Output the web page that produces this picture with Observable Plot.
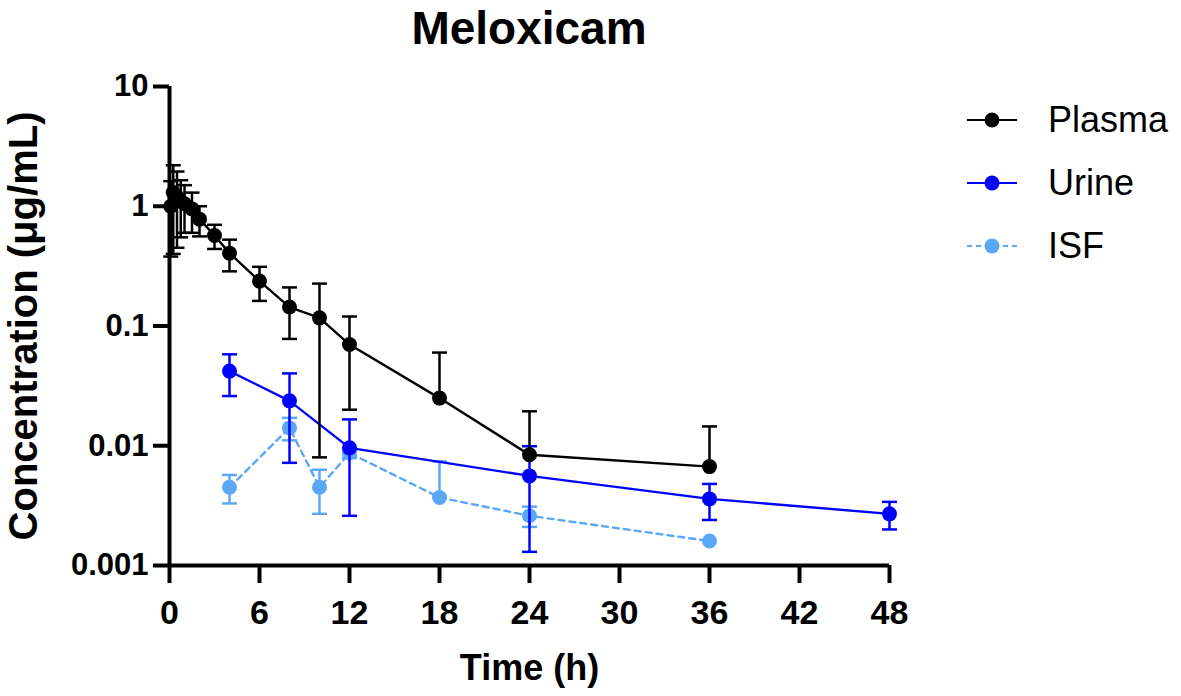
<!DOCTYPE html>
<html><head><meta charset="utf-8">
<script src="https://cdn.jsdelivr.net/npm/d3@7"></script>
<script src="https://cdn.jsdelivr.net/npm/@observablehq/plot@0.6"></script>
<style>
body{margin:0;background:#fff;font-family:"Liberation Sans",Arial,sans-serif;}
#wrap{position:relative;width:1181px;height:696px;overflow:hidden;}
#title{position:absolute;top:1px;left:0;width:1058px;text-align:center;font-size:46px;font-weight:bold;line-height:normal;}
#chart{padding-top:50px;}
#legend{position:absolute;left:966px;top:88px;}
.row{display:flex;align-items:center;height:63px;font-size:36px;}
.row svg{margin-right:30px;}
</style></head>
<body><div id="wrap"><div id="title">Meloxicam</div><div id="chart"></div><div id="legend"></div></div>
<script>
const series = ["Plasma", "Urine", "ISF"];
const colors = ["#000000", "#0000ff", "#5aa8f5"];
const dashes = [null, null, "6,5"];

const plasmaTime = [0.083, 0.25, 0.5, 0.75, 1, 1.5, 2, 3, 4, 6, 8, 10, 12, 18, 24, 36];
const plasmaMean = [1.0, 1.3, 1.2, 1.1, 1.05, 0.95, 0.78, 0.57, 0.406, 0.237, 0.144, 0.117, 0.07, 0.025, 0.0084, 0.0067];
const plasmaSD   = [0.62, 0.9, 0.75, 0.55, 0.45, 0.35, 0.22, 0.13, 0.12, 0.075, 0.066, 0.109, 0.05, 0.035, 0.011, 0.0078];

const urineTime = [4, 8, 12, 24, 36, 48];
const urineMean = [0.042, 0.0237, 0.0096, 0.0056, 0.0036, 0.0027];
const urineSD   = [0.016, 0.0165, 0.007, 0.0043, 0.0012, 0.0007];

const isfTime = [4, 8, 10, 12, 18, 24, 36];
const isfMean = [0.0045, 0.0141, 0.0045, 0.0087, 0.0037, 0.0026, 0.0016];
const isfSD   = [0.0012, 0.003, 0.0018, 0.0008, 0.0037, 0.0005, 0.0];

const xTicks = [0, 6, 12, 18, 24, 30, 36, 42, 48];
const yTicks = [0.001, 0.01, 0.1, 1, 10];

function build(name, t, m, s) {
  return t.map((x, i) => ({series: name, t: x, mean: m[i], lo: m[i] - s[i], hi: m[i] + s[i], sd: s[i]}));
}
const groups = [
  build("ISF", isfTime, isfMean, isfSD),
  build("Urine", urineTime, urineMean, urineSD),
  build("Plasma", plasmaTime, plasmaMean, plasmaSD)
];

const cap = {draw(ctx, size) { const r = Math.sqrt(size / Math.PI); ctx.moveTo(-r, 0); ctx.lineTo(r, 0); }};

const marks = [];
for (const rows of groups) {
  const name = rows[0].series;
  const idx = series.indexOf(name);
  const err = rows.filter(d => d.sd > 0);
  marks.push(
    Plot.ruleX(err, {x: "t", y1: d => d.lo > 0 ? d.lo : d.mean, y2: "hi", stroke: "series", strokeWidth: 2.5}),
    Plot.dot(err, {x: "t", y: "hi", symbol: cap, r: 7.5, stroke: "series", strokeWidth: 2.5, fill: "none"}),
    Plot.dot(err.filter(d => d.lo > 0), {x: "t", y: "lo", symbol: cap, r: 7.5, stroke: "series", strokeWidth: 2.5, fill: "none"}),
    Plot.line(rows, {x: "t", y: "mean", stroke: "series", strokeWidth: 2.4, strokeDasharray: dashes[idx]}),
    Plot.dot(rows, {x: "t", y: "mean", fill: "series", r: 7.5})
  );
}

const chart = Plot.plot({
  width: 1181,
  height: 646,
  marginLeft: 169,
  marginRight: 292,
  marginTop: 36,
  marginBottom: 131,
  style: {fontFamily: "'Liberation Sans', Arial, sans-serif", overflow: "visible", background: "#fff"},
  x: {domain: [0, 48]},
  y: {type: "log", domain: [0.001, 10]},
  color: {domain: series, range: colors},
  marks: [
    ...marks,
    Plot.ruleX([0], {y1: 0.001, y2: 10, strokeWidth: 4}),
    Plot.ruleY([0.001], {x1: 0, x2: 48, strokeWidth: 4}),
    Plot.axisX({ticks: xTicks, tickSize: 18, strokeWidth: 4, tickPadding: 16, fontSize: 34, fontWeight: "bold", label: null}),
    Plot.axisY({ticks: yTicks, tickSize: 16, strokeWidth: 4, tickPadding: 5, fontSize: 31, fontWeight: "bold", label: null, tickFormat: d => String(d)}),
    Plot.text(["Time (h)"], {frameAnchor: "bottom", dy: 114, fontSize: 36, fontWeight: "bold"}),
    Plot.text(["Concentration (μg/mL)"], {frameAnchor: "left", dx: -145, rotate: -90, textAnchor: "middle", fontSize: 40, fontWeight: "bold"})
  ]
});
document.getElementById("chart").appendChild(chart);

const legend = document.getElementById("legend");
series.forEach((name, i) => {
  const row = document.createElement("div");
  row.className = "row";
  row.innerHTML = `<svg width="52" height="20"><line x1="1" x2="51" y1="10" y2="10" stroke="${colors[i]}" stroke-width="2.2" ${dashes[i] ? `stroke-dasharray="5,4"` : ""}/><circle cx="26" cy="10" r="7.5" fill="${colors[i]}"/></svg><span>${name}</span>`;
  legend.appendChild(row);
});
</script></body></html>
